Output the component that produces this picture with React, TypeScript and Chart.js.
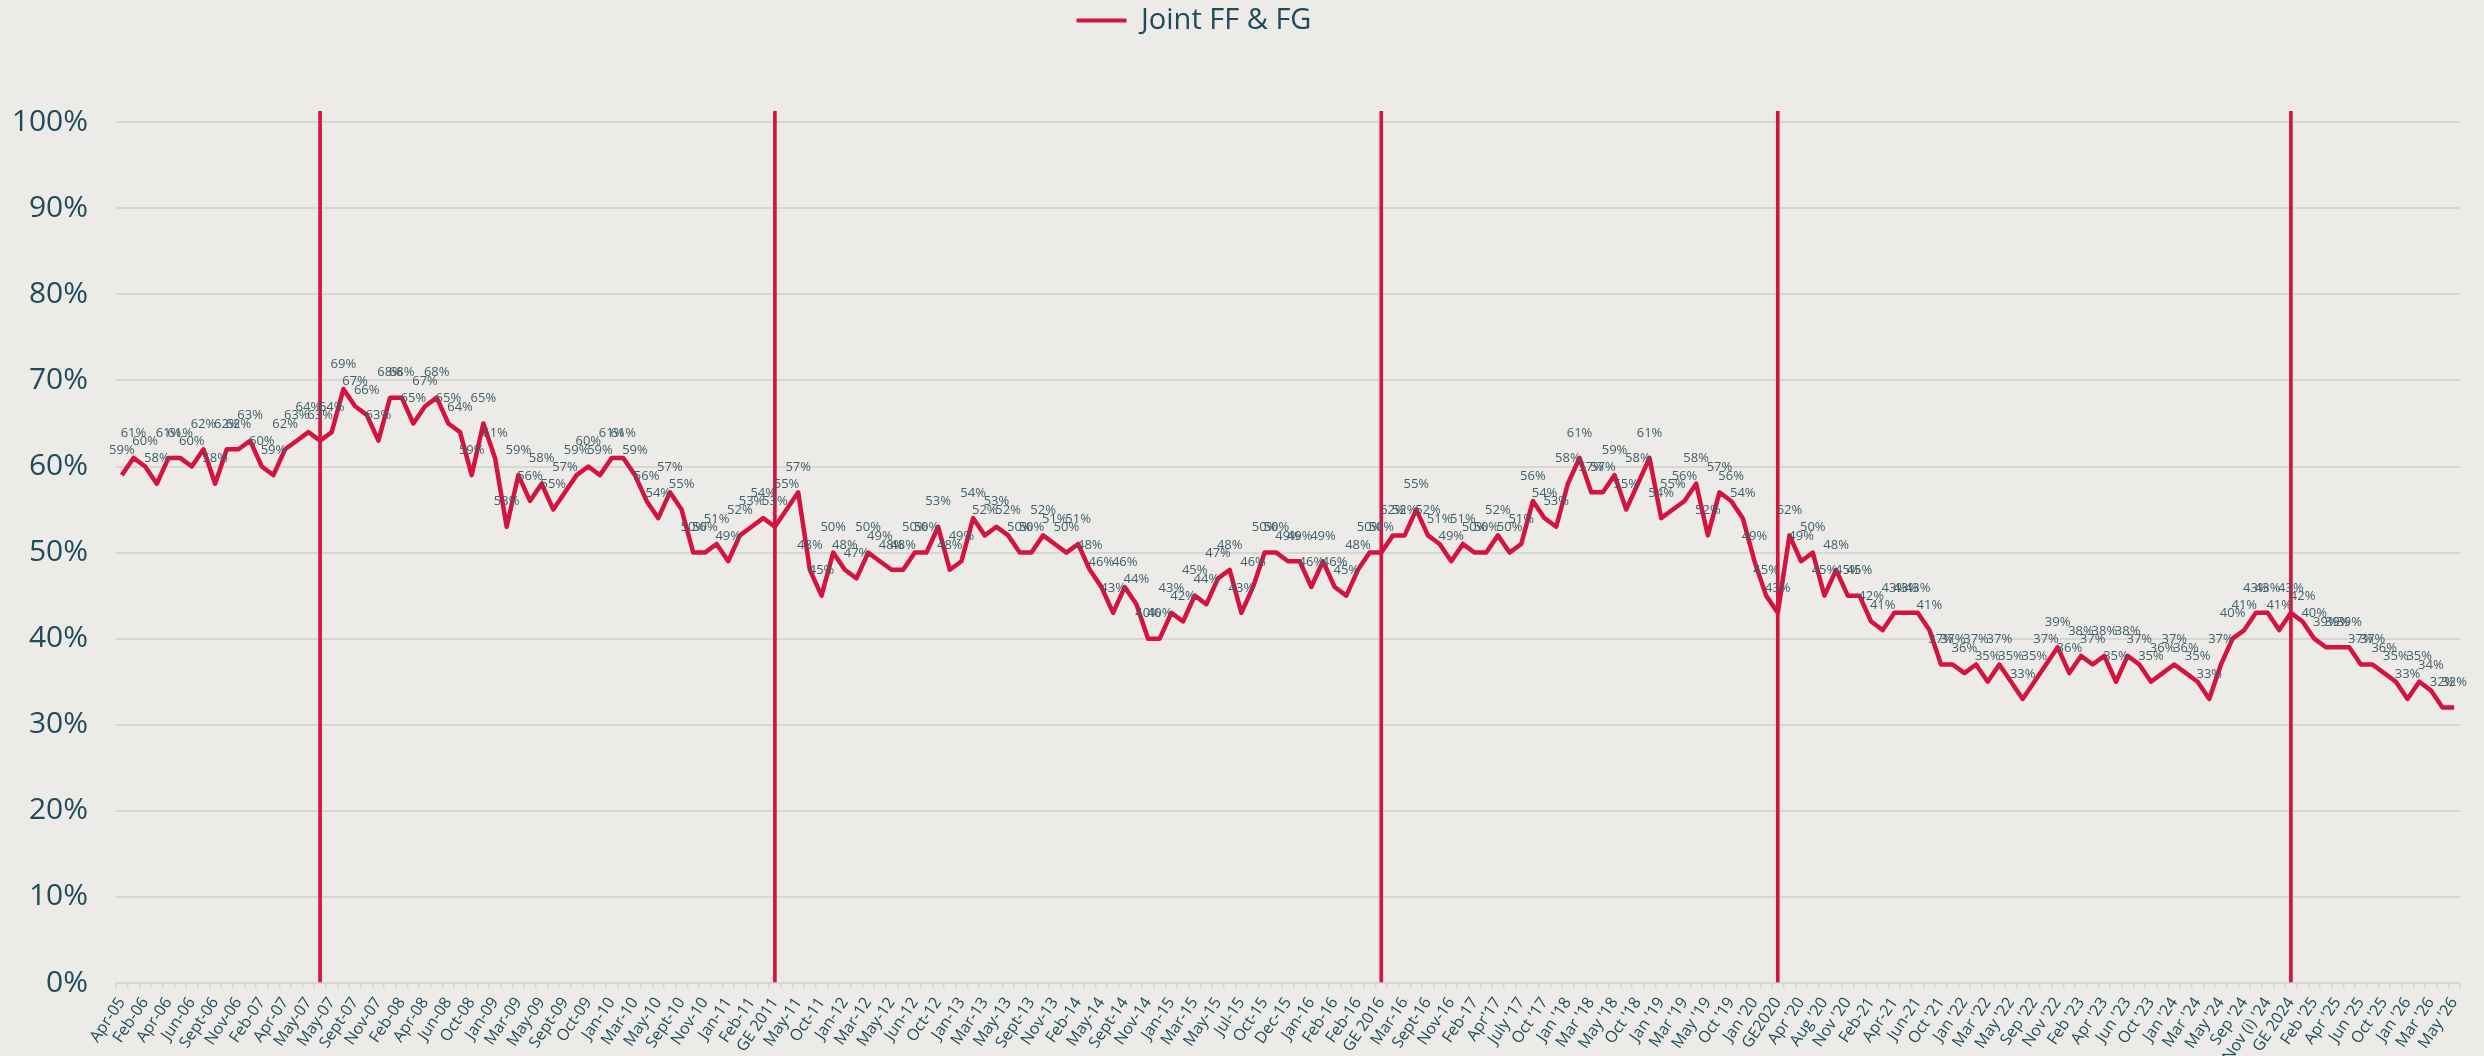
import React, { useEffect, useRef } from 'react';
import { Chart, registerables } from 'chart.js';

Chart.register(...registerables);

// Category labels (every second one is shown on the axis)
const categories: string[] = [
  'Apr-05', 'Oct-05', 'Feb-06', 'Mar-06', 'Apr-06', 'May-06', 'Jun-06', 'Jul-06', 'Sept-06', 'Oct-06',
  'Nov-06', 'Jan-07', 'Feb-07', 'Mar-07', 'Apr-07', 'Apr-07', 'May-07', 'GE 2007', 'May-07', 'Jun-07',
  'Sept-07', 'Oct-07', 'Nov-07', 'Jan-08', 'Feb-08', 'Mar-08', 'Apr-08', 'May-08', 'Jun-08', 'Sept-08',
  'Oct-08', 'Nov-08', 'Jan-09', 'Feb-09', 'Mar-09', 'Apr-09', 'May-09', 'Jun-09', 'Sept-09', 'Sept-09',
  'Oct-09', 'Nov-09', 'Jan-10', 'Feb-10', 'Mar-10', 'Apr-10', 'May-10', 'Jun-10', 'Sept-10', 'Oct-10',
  'Nov-10', 'Dec-10', 'Jan-11', 'Feb-11', 'Feb-11', 'Feb-11', 'GE 2011', 'Apr-11', 'May-11', 'Sept-11',
  'Oct-11', 'Nov-11', 'Jan-12', 'Feb-12', 'Mar-12', 'Apr-12', 'May-12', 'May-12', 'Jun-12', 'Sept-12',
  'Oct-12', 'Nov-12', 'Jan-13', 'Feb-13', 'Mar-13', 'Apr-13', 'May-13', 'Jun-13', 'Sept-13', 'Oct-13',
  'Nov-13', 'Jan-14', 'Feb-14', 'Mar-14', 'May-14', 'Jun-14', 'Sept-14', 'Oct-14', 'Nov-14', 'Dec-14',
  'Jan-15', 'Feb-15', 'Mar-15', 'Apr-15', 'May-15', 'Jun-15', 'Jul-15', 'Sept-15', 'Oct-15', 'Nov-15',
  'Dec-15', 'Jan-16', 'Jan-16', 'Feb-16', 'Feb-16', 'Feb-16', 'Feb-16', 'Feb-16', 'GE 2016', 'Mar-16',
  'Mar-16', 'Apr-16', 'Sept-16', 'Oct-16', 'Nov-16', 'Jan-17', 'Feb-17', 'Mar-17', "Apr'17", "May '17",
  "July '17", "Sept '17", "Oct '17", "Nov '17", "Jan '18", "Feb '18", "Mar '18", "Apr '18", "May '18", "Sept '18",
  "Oct '18", "Nov '18", "Jan '19", "Feb '19", "Mar '19", "Apr '19", "May '19", "Sept '19", "Oct '19", "Dec '19",
  "Jan '20", "Feb '20", 'GE2020', "Mar '20", "Apr '20", "Jun '20", "Aug '20", "Sept '20", "Nov '20", 'Jan-21',
  'Feb-21', 'Mar-21', 'Apr-21', 'May-21', 'Jun-21', "Sept '21", "Oct '21", "Nov '21", "Jan '22", "Feb '22",
  "Mar '22", "Apr '22", "May '22", "Jun '22", "Sep '22", "Oct '22", "Nov '22", "Jan '23", "Feb '23", "Mar '23",
  "Apr '23", "May '23", "Jun '23", "Sep '23", "Oct '23", "Nov '23", "Jan '24", "Feb '24", "Mar '24", "Apr '24",
  "May '24", "Jun '24", "Sep '24", "Oct '24", "Nov (i) '24", "Nov (ii) '24", 'GE 2024', "Jan '25", "Feb '25", "Mar '25",
  "Apr '25", "May '25", "Jun '25", "Sep '25", "Oct '25", "Nov '25", "Jan '26", "Feb '26", "Mar '26", "Apr '26",
  "May '26",
];

// Joint FF & FG support (%)
const jointFFFG: number[] = [
  59, 61, 60, 58, 61, 61, 60, 62, 58, 62,
  62, 63, 60, 59, 62, 63, 64, 63, 64, 69,
  67, 66, 63, 68, 68, 65, 67, 68, 65, 64,
  59, 65, 61, 53, 59, 56, 58, 55, 57, 59,
  60, 59, 61, 61, 59, 56, 54, 57, 55, 50,
  50, 51, 49, 52, 53, 54, 53, 55, 57, 48,
  45, 50, 48, 47, 50, 49, 48, 48, 50, 50,
  53, 48, 49, 54, 52, 53, 52, 50, 50, 52,
  51, 50, 51, 48, 46, 43, 46, 44, 40, 40,
  43, 42, 45, 44, 47, 48, 43, 46, 50, 50,
  49, 49, 46, 49, 46, 45, 48, 50, 50, 52,
  52, 55, 52, 51, 49, 51, 50, 50, 52, 50,
  51, 56, 54, 53, 58, 61, 57, 57, 59, 55,
  58, 61, 54, 55, 56, 58, 52, 57, 56, 54,
  49, 45, 43, 52, 49, 50, 45, 48, 45, 45,
  42, 41, 43, 43, 43, 41, 37, 37, 36, 37,
  35, 37, 35, 33, 35, 37, 39, 36, 38, 37,
  38, 35, 38, 37, 35, 36, 37, 36, 35, 33,
  37, 40, 41, 43, 43, 41, 43, 42, 40, 39,
  39, 39, 37, 37, 36, 35, 33, 35, 34, 32,
  32,
];

// General elections (category indices)
const electionIndices: number[] = [17, 56, 108, 142, 186];

const yTickValues: number[] = [0, 10, 20, 30, 40, 50, 60, 70, 80, 90, 100];
const Y_TOP = 101.3;

const RED = '#D5133F';
const BG = '#ECEBE7';
const TEXT = '#1F4B5B';
const LABEL = '#3F5F6A';
const GRID = '#D8D6D3';
const FONT = '"Open Sans", "DejaVu Sans", sans-serif';

export default function App() {
  const ref = useRef<HTMLCanvasElement | null>(null);

  useEffect(() => {
    if (!ref.current) return;

    const electionData = categories.map((_, i) => (electionIndices.includes(i) ? Y_TOP : null));

    const legendPlugin = {
      id: 'legendTweak',
      beforeInit(chart: any) {
        const legend = chart.legend;
        if (!legend) return;
        const origFit = legend.fit;
        legend.fit = function () {
          origFit.call(this);
          this.height = 111;
        };
        const origDraw = legend.draw;
        legend.draw = function () {
          const ctx = this.ctx;
          ctx.save();
          ctx.translate(-36, 1);
          origDraw.call(this);
          ctx.restore();
        };
      },
    };

    const dataLabelPlugin = {
      id: 'pointLabels',
      afterDatasetsDraw(chart: any) {
        const meta = chart.getDatasetMeta(0);
        const ctx = chart.ctx;
        ctx.save();
        ctx.font = `13px ${FONT}`;
        ctx.fillStyle = LABEL;
        ctx.textAlign = 'center';
        ctx.textBaseline = 'middle';
        meta.data.forEach((pt: any, i: number) => {
          ctx.fillText(`${jointFFFG[i]}%`, pt.x, pt.y - 25);
        });
        ctx.restore();
      },
    };

    const chart = new Chart(ref.current, {
      type: 'line',
      data: {
        labels: categories,
        datasets: [
          {
            type: 'line',
            label: 'Joint FF & FG',
            data: jointFFFG,
            borderColor: RED,
            backgroundColor: RED,
            borderWidth: 4.5,
            pointRadius: 0,
            tension: 0,
            borderJoinStyle: 'round',
            order: 0,
          },
          {
            type: 'bar',
            label: 'General election',
            data: electionData as any,
            backgroundColor: RED,
            borderWidth: 0,
            barThickness: 3,
            order: 1,
          } as any,
        ],
      },
      options: {
        responsive: false,
        animation: false,
        maintainAspectRatio: false,
        layout: { padding: { left: 0, right: 24, top: 0, bottom: 0 } },
        plugins: {
          tooltip: { enabled: false },
          legend: {
            display: true,
            position: 'top',
            align: 'center',
            labels: {
              boxWidth: 50,
              boxHeight: 4,
              padding: 5,
              color: TEXT,
              font: { family: FONT, size: 29 },
              generateLabels: () => [
                {
                  text: 'Joint FF & FG',
                  fillStyle: RED,
                  strokeStyle: RED,
                  lineWidth: 0,
                  hidden: false,
                  datasetIndex: 0,
                  fontColor: TEXT,
                } as any,
              ],
            },
          },
        },
        scales: {
          x: {
            offset: true,
            afterFit: (s: any) => {
              s.height = 73;
            },
            ticks: {
              autoSkip: false,
              minRotation: 56,
              maxRotation: 56,
              padding: 6,
              color: TEXT,
              font: { family: FONT, size: 16 },
              callback: (_v: any, i: number) => (i % 2 === 0 ? categories[i] : ''),
            },
            grid: {
              display: true,
              drawOnChartArea: false,
              drawTicks: true,
              tickLength: 5,
              offset: true,
              color: GRID,
              lineWidth: 1.5,
            },
            border: { display: true, color: GRID, width: 2 },
          },
          y: {
            min: 0,
            max: Y_TOP,
            afterFit: (s: any) => {
              s.width = 116;
            },
            afterBuildTicks: (s: any) => {
              s.ticks = yTickValues.map((v) => ({ value: v }));
            },
            ticks: {
              stepSize: 10,
              padding: 28,
              color: TEXT,
              font: { family: FONT, size: 30 },
              callback: (v: any) => `${v}%`,
            },
            grid: { color: GRID, lineWidth: 2, drawTicks: false },
            border: { display: false },
          },
        },
      },
      plugins: [legendPlugin, dataLabelPlugin],
    });

    return () => chart.destroy();
  }, []);

  return (
    <div style={{ position: 'absolute', left: 0, top: 0, width: 2484, height: 1056, background: BG }}>
      <canvas ref={ref} width={2484} height={1056} style={{ display: 'block' }} />
    </div>
  );
}
